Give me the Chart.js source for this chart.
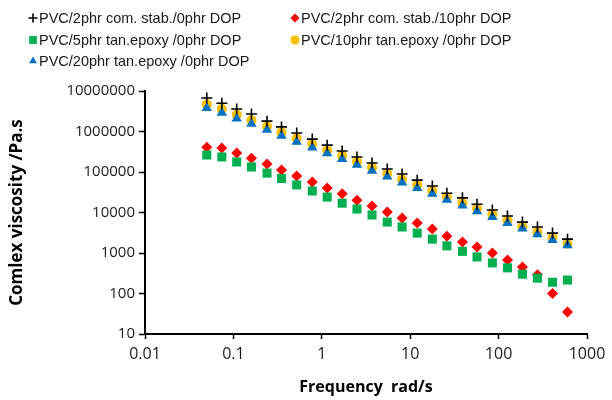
<!DOCTYPE html>
<html>
<head>
<meta charset="utf-8">
<script src="https://cdn.jsdelivr.net/npm/chart.js@4"></script>
<style>
  body { margin: 0; background: #fff; }
  #wrap { width: 612px; height: 400px; }
</style>
</head>
<body>
<div id="wrap"><canvas id="viscChart" width="612" height="400"></canvas></div>
<script>
// frequency, rad/s
var freq = [0.05, 0.074, 0.109, 0.16, 0.24, 0.35, 0.52, 0.78, 1.15, 1.7, 2.5, 3.7, 5.5, 8.1, 12, 17.8, 26, 39, 57, 85, 126, 186, 275, 407, 602];

// complex viscosity, Pa.s
var visc_2com_0dop = [6.7e6, 5.0e6, 3.6e6, 2.7e6, 1.8e6, 1.3e6, 9.2e5, 6.5e5, 4.6e5, 3.3e5, 2.35e5, 1.67e5, 1.19e5, 8.9e4, 6.3e4, 4.5e4, 3.0e4, 2.3e4, 1.6e4, 1.15e4, 8.2e3, 5.8e3, 4.4e3, 3.1e3, 2.2e3];
var visc_2com_10dop = [4.1e5, 3.9e5, 2.95e5, 2.2e5, 1.58e5, 1.12e5, 8.0e4, 5.7e4, 4.0e4, 2.9e4, 2.0e4, 1.45e4, 1.03e4, 7.3e3, 5.5e3, 3.9e3, 2.6e3, 1.87e3, 1.4e3, 1.0e3, 670, 450, 290, 100, 35];
var visc_5tan_0dop = [2.63e5, 2.35e5, 1.77e5, 1.33e5, 9.4e4, 6.9e4, 4.8e4, 3.4e4, 2.4e4, 1.7e4, 1.22e4, 8.7e3, 5.8e3, 4.4e3, 3.1e3, 2.2e3, 1.5e3, 1.1e3, 800, 570, 430, 300, 240, 190, 215];
var visc_10tan_0dop = [4.7e6, 3.6e6, 2.6e6, 1.9e6, 1.35e6, 9.5e5, 6.8e5, 4.9e5, 3.5e5, 2.5e5, 1.8e5, 1.28e5, 9.1e4, 6.6e4, 4.8e4, 3.4e4, 2.4e4, 1.75e4, 1.25e4, 9.0e3, 6.4e3, 4.6e3, 3.3e3, 2.4e3, 1.7e3];
var visc_20tan_0dop = [3.8e6, 2.9e6, 2.1e6, 1.55e6, 1.1e6, 7.8e5, 5.6e5, 4.0e5, 2.9e5, 2.1e5, 1.5e5, 1.07e5, 7.7e4, 5.5e4, 4.0e4, 2.9e4, 2.05e4, 1.48e4, 1.07e4, 7.7e3, 5.5e3, 4.0e3, 2.9e3, 2.1e3, 1.55e3];

var seriesLabels = [
  "PVC/2phr com. stab./0phr DOP",
  "PVC/2phr com. stab./10phr DOP",
  "PVC/5phr tan.epoxy /0phr DOP",
  "PVC/10phr tan.epoxy /0phr DOP",
  "PVC/20phr tan.epoxy /0phr DOP"
];

var xTicks = [0.01, 0.1, 1, 10, 100, 1000];
var yTicks = [10, 100, 1000, 10000, 100000, 1000000, 10000000];

function pts(vals) {
  return freq.map(function (f, i) { return { x: f, y: vals[i] }; });
}

const data_visc = {
  datasets: [
    { label: seriesLabels[0], data: pts(visc_2com_0dop), pointStyle: "cross", pointRadius: 5.5,
      borderColor: "#000000", backgroundColor: "#000000", pointBorderWidth: 1.6, order: 0 },
    { label: seriesLabels[1], data: pts(visc_2com_10dop), pointStyle: "rectRot", pointRadius: 5.5,
      borderColor: "#ff0000", backgroundColor: "#ff0000", pointBorderWidth: 0, order: 4 },
    { label: seriesLabels[2], data: pts(visc_5tan_0dop), pointStyle: "rect", pointRadius: 6.4,
      borderColor: "#00b050", backgroundColor: "#00b050", pointBorderWidth: 0, order: 3 },
    { label: seriesLabels[3], data: pts(visc_10tan_0dop), pointStyle: "circle", pointRadius: 5,
      borderColor: "#ffc000", backgroundColor: "#ffc000", pointBorderWidth: 0, order: 2 },
    { label: seriesLabels[4], data: pts(visc_20tan_0dop), pointStyle: "triangle", pointRadius: 6,
      borderColor: "#0070c0", backgroundColor: "#0070c0", pointBorderWidth: 0, order: 1 }
  ]
};

// legend in two columns like the original
const legendPlugin = {
  id: "gridLegend",
  afterDraw(chart) {
    const ctx = chart.ctx;
    const spots = [[33, 18], [295, 18], [33, 40], [295, 40], [33, 61]];
    ctx.save();
    ctx.font = "14.5px 'Liberation Sans', Arial, sans-serif";
    ctx.textBaseline = "middle";
    chart.data.datasets.forEach(function (ds, i) {
      const x = spots[i][0], y = spots[i][1];
      ctx.fillStyle = ds.backgroundColor;
      ctx.strokeStyle = ds.borderColor;
      ctx.lineWidth = ds.pointBorderWidth || 0;
      Chart.helpers.drawPoint(ctx, {
        pointStyle: ds.pointStyle,
        radius: ds.pointStyle === "rect" ? 5.5 : 4.5,
        rotation: 0,
        borderWidth: ds.pointBorderWidth
      }, x, y);
      ctx.fillStyle = "#1a1a1a";
      ctx.fillText(ds.label, x + 6, y + 1);
    });
    ctx.restore();
  }
};

const config_visc = {
  type: "scatter",
  data: data_visc,
  options: {
    responsive: false,
    animation: false,
    devicePixelRatio: 1,
    layout: { padding: { top: 91, right: 25, bottom: 0, left: 0 } },
    scales: {
      x: {
        type: "logarithmic",
        min: 0.01,
        max: 1000,
        afterBuildTicks: function (axis) {
          axis.ticks = xTicks.map(function (v) { return { value: v }; });
        },
        afterFit: function (scale) { scale.height = 66; },
        ticks: {
          callback: function (v) { return String(v); },
          color: "#1a1a1a",
          font: { family: "'Open Sans'", size: 16 },
          padding: 6,
          maxRotation: 0
        },
        grid: { drawOnChartArea: false, drawTicks: true, tickLength: 5, tickColor: "#000", tickWidth: 1.5 },
        border: { display: true, color: "#000", width: 2 },
        title: {
          display: true,
          text: "Frequency  rad/s",
          color: "#000",
          font: { family: "'Open Sans'", size: 16, weight: "bold" },
          padding: { top: 2, bottom: 3 }
        }
      },
      y: {
        type: "logarithmic",
        min: 10,
        max: 10000000,
        afterBuildTicks: function (axis) {
          axis.ticks = yTicks.map(function (v) { return { value: v }; });
        },
        afterFit: function (scale) { scale.width = 145; },
        ticks: {
          callback: function (v) { return String(v); },
          color: "#1a1a1a",
          font: { family: "'Open Sans'", size: 15 },
          padding: 4
        },
        grid: { drawOnChartArea: false, drawTicks: true, tickLength: 6, tickColor: "#000", tickWidth: 1.5 },
        border: { display: true, color: "#000", width: 2 },
        title: {
          display: true,
          text: "Comlex viscosity /Pa.s",
          color: "#000",
          font: { family: "'Open Sans'", size: 17, weight: "bold" },
          padding: { top: 7, bottom: 2 }
        }
      }
    },
    plugins: {
      legend: { display: false },
      tooltip: { enabled: false }
    }
  },
  plugins: [legendPlugin]
};

const viscChart = new Chart(document.getElementById("viscChart"), config_visc);
</script>
</body>
</html>
